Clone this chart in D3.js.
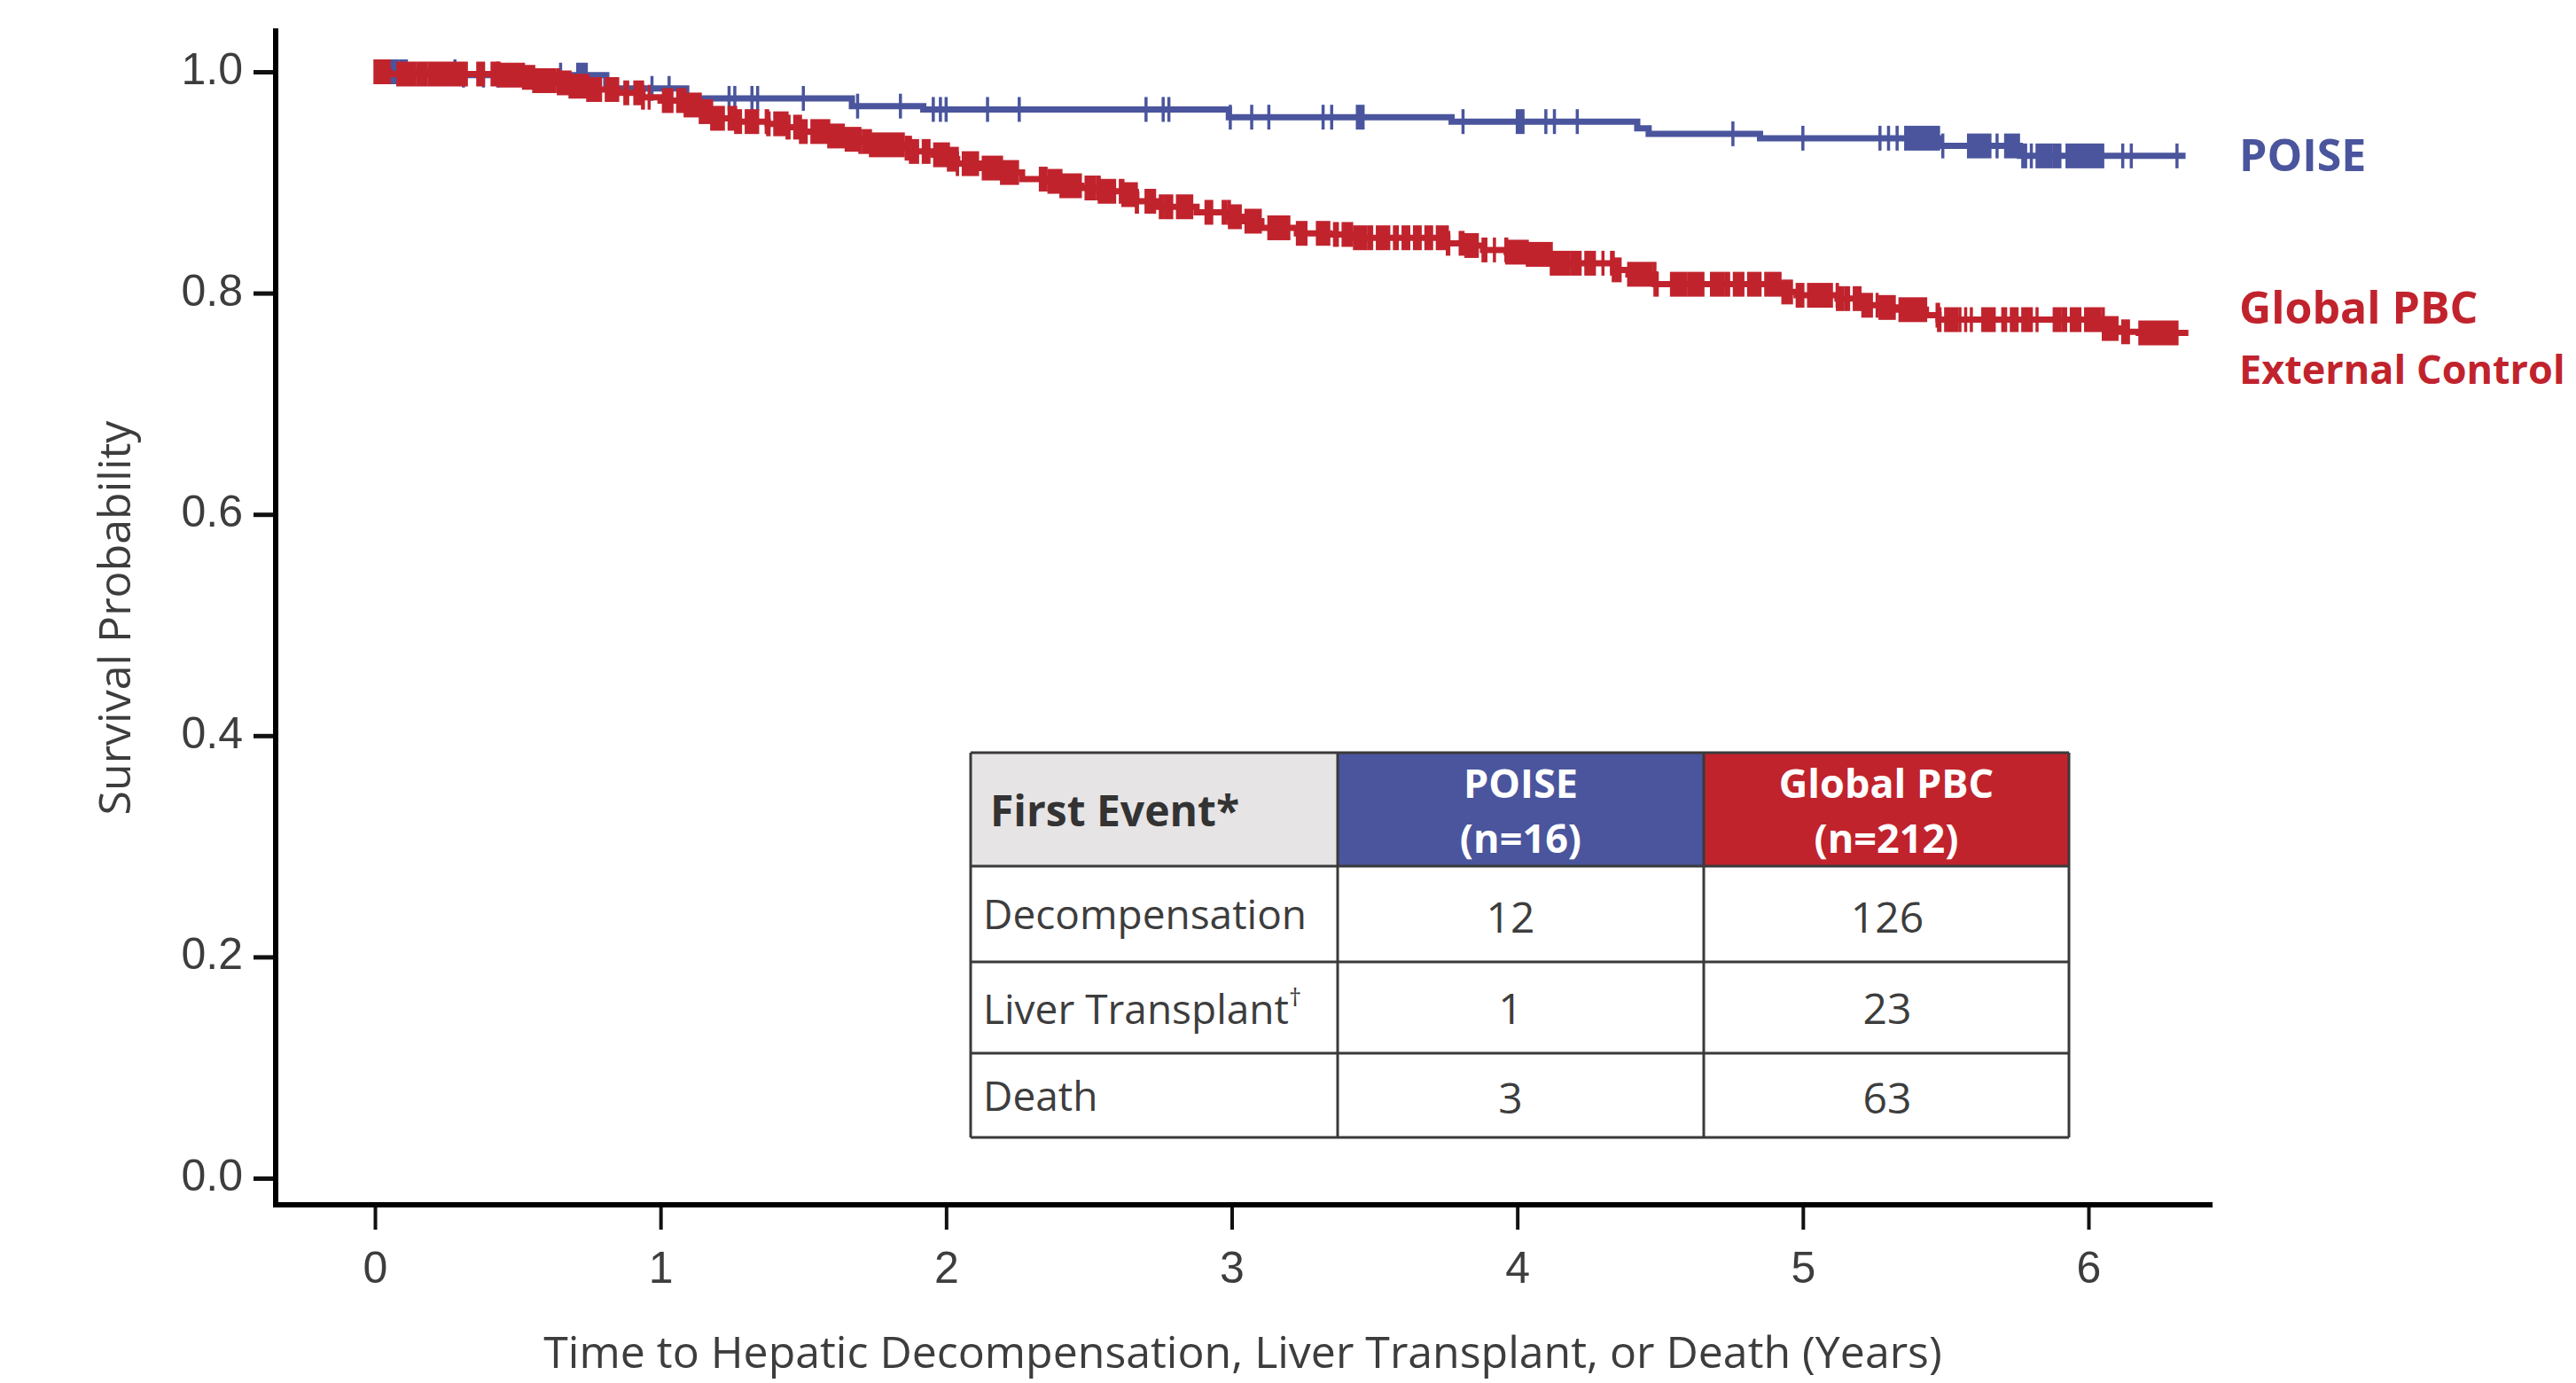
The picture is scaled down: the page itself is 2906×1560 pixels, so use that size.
<!DOCTYPE html>
<html lang="en">
<head>
    <meta charset="UTF-8">
    <title>Time to first event</title>
    <script src="https://cdn.jsdelivr.net/npm/d3@7/dist/d3.min.js"></script>
    <style>
        body { margin: 0; background: #fff; }
        svg { display: block; font-family: "Open Sans", sans-serif; }
        .axis text { fill: #3d3d3d; font-size: 50px; }
        .axis line { stroke: #111; stroke-width: 5px; }
        .axis path { display: none; }
    </style>
</head>
<body>
    <script>
        // axis ticks
        var xTicks = [0, 1, 2, 3, 4, 5, 6];
        var yTicks = [0.0, 0.2, 0.4, 0.6, 0.8, 1.0];

        // KM steps: [years, survival after the step]
        var poiseSteps = [[0, 1.0], [0.30, 0.997], [0.81, 0.985], [1.09, 0.976], [1.67, 0.969], [1.92, 0.966],
            [2.99, 0.959], [3.77, 0.955], [4.42, 0.949], [4.46, 0.944], [4.85, 0.940], [5.475, 0.933], [5.76, 0.924]];
        var poiseEnd = 6.34;
        // censor marks, [from, to] in years (from == to is a single mark)
        var poiseCensor = [[0.05, 0.08], [0.09, 0.11], [0.28, 0.28], [0.31, 0.31], [0.38, 0.38], [0.43, 0.43], [0.65, 0.65],
            [0.71, 0.74], [0.97, 0.97], [1.03, 1.03], [1.24, 1.24], [1.26, 1.26], [1.32, 1.32], [1.34, 1.34], [1.50, 1.50],
            [1.69, 1.69], [1.84, 1.84], [1.955, 1.955], [1.98, 1.98], [2.00, 2.00], [2.145, 2.145], [2.256, 2.256],
            [2.70, 2.70], [2.76, 2.76], [2.78, 2.78], [2.995, 2.995], [3.07, 3.07], [3.13, 3.13], [3.32, 3.32], [3.35, 3.35],
            [3.44, 3.46], [3.81, 3.81], [4.00, 4.02], [4.10, 4.10], [4.13, 4.13], [4.21, 4.21], [4.755, 4.755], [5.00, 5.00],
            [5.27, 5.27], [5.30, 5.30], [5.33, 5.33], [5.36, 5.475], [5.49, 5.49], [5.58, 5.655], [5.68, 5.68], [5.71, 5.755],
            [5.77, 5.78], [5.80, 5.80], [5.82, 5.87], [5.88, 5.90], [5.925, 6.05], [6.12, 6.12], [6.15, 6.15], [6.31, 6.31]];

        var pbcSteps = [[0, 1.0], [0.05, 0.998], [0.435, 0.997], [0.52, 0.995], [0.556, 0.992], [0.642, 0.990], [0.683, 0.987],
            [0.745, 0.984], [0.854, 0.981], [0.937, 0.977], [1.00, 0.974], [1.086, 0.970], [1.139, 0.964], [1.179, 0.958],
            [1.263, 0.955], [1.375, 0.953], [1.443, 0.950], [1.49, 0.946], [1.589, 0.942], [1.645, 0.939], [1.698, 0.937],
            [1.735, 0.934], [1.853, 0.931], [1.875, 0.928], [1.955, 0.925], [2.008, 0.921], [2.039, 0.917], [2.123, 0.913],
            [2.194, 0.909], [2.266, 0.903], [2.359, 0.901], [2.402, 0.897], [2.474, 0.895], [2.536, 0.892], [2.619, 0.889],
            [2.666, 0.883], [2.744, 0.878], [2.877, 0.873], [2.992, 0.869], [3.042, 0.865], [3.104, 0.859], [3.228, 0.854],
            [3.343, 0.853], [3.426, 0.850], [3.755, 0.845], [3.818, 0.843], [3.88, 0.839], [3.963, 0.837], [4.035, 0.835],
            [4.119, 0.827], [4.336, 0.821], [4.389, 0.817], [4.482, 0.808], [4.926, 0.801], [4.978, 0.798], [5.121, 0.795],
            [5.205, 0.789], [5.267, 0.787], [5.329, 0.785], [5.431, 0.780], [5.475, 0.776], [6.052, 0.768], [6.105, 0.765],
            [6.176, 0.764]];
        var pbcEnd = 6.35;
        var pbcCensor = [[0.00, 0.05], [0.08, 0.14], [0.15, 0.18], [0.19, 0.20], [0.21, 0.25], [0.26, 0.29], [0.30, 0.32],
            [0.36, 0.38], [0.41, 0.43], [0.43, 0.56], [0.57, 0.61], [0.62, 0.63], [0.64, 0.79], [0.81, 0.85], [0.875, 0.885],
            [0.91, 0.94], [0.96, 0.96], [1.01, 1.04], [1.06, 1.22], [1.24, 1.28], [1.30, 1.34], [1.37, 1.38], [1.40, 1.42],
            [1.43, 1.45], [1.47, 1.51], [1.53, 1.64], [1.65, 1.70], [1.71, 1.85], [1.86, 1.86], [1.87, 1.90], [1.92, 1.94],
            [1.96, 2.04], [2.06, 2.09], [2.10, 2.11], [2.13, 2.25], [2.33, 2.35], [2.36, 2.47], [2.49, 2.50], [2.51, 2.52],
            [2.53, 2.59], [2.61, 2.67], [2.70, 2.73], [2.75, 2.76], [2.77, 2.79], [2.81, 2.86], [2.91, 2.93], [2.97, 2.98],
            [2.99, 3.03], [3.05, 3.10], [3.13, 3.20], [3.23, 3.26], [3.30, 3.34], [3.36, 3.37], [3.39, 3.42], [3.43, 3.47],
            [3.48, 3.49], [3.51, 3.55], [3.57, 3.58], [3.60, 3.62], [3.64, 3.66], [3.68, 3.70], [3.72, 3.76], [3.80, 3.81],
            [3.82, 3.86], [3.88, 3.89], [3.92, 3.92], [3.96, 4.07], [4.08, 4.18], [4.19, 4.22], [4.24, 4.25], [4.26, 4.27],
            [4.30, 4.30], [4.33, 4.34], [4.35, 4.36], [4.39, 4.47], [4.48, 4.49], [4.54, 4.59], [4.60, 4.65], [4.68, 4.72],
            [4.73, 4.74], [4.76, 4.79], [4.81, 4.85], [4.87, 4.89], [4.90, 4.92], [4.93, 4.96], [4.98, 5.00], [5.02, 5.03],
            [5.04, 5.10], [5.12, 5.14], [5.15, 5.16], [5.18, 5.20], [5.21, 5.24], [5.26, 5.26], [5.27, 5.29], [5.30, 5.32],
            [5.34, 5.43], [5.47, 5.48], [5.50, 5.54], [5.55, 5.55], [5.57, 5.57], [5.59, 5.59], [5.63, 5.67], [5.70, 5.71],
            [5.73, 5.75], [5.77, 5.80], [5.82, 5.82], [5.88, 5.90], [5.91, 5.92], [5.94, 5.97], [5.99, 6.01], [6.02, 6.04],
            [6.05, 6.10], [6.12, 6.14], [6.18, 6.29], [6.30, 6.31]];

        // inset table
        var tableHead = ["First Event*", ["POISE", "(n=16)"], ["Global PBC", "(n=212)"]];
        var rowLabels = ["Decompensation", "Liver Transplant", "Death"];
        var poiseCounts = [12, 1, 3];
        var pbcCounts = [126, 23, 63];

        var blue = "#4a559d", red = "#c1232d", ink = "#3d3d3d";

        var svg = d3.select("body").append("svg")
            .attr("width", 2906)
            .attr("height", 1560);

        var x = d3.scaleLinear().domain([0, 6]).range([423, 2356]);
        var y = d3.scaleLinear().domain([0, 1]).range([1329, 81]);

        // axes
        var gx = svg.append("g").attr("class", "axis")
            .attr("transform", "translate(0,1359)")
            .call(d3.axisBottom(x).tickValues(xTicks).tickFormat(d3.format("d")).tickSize(28).tickSizeOuter(0));
        gx.selectAll("line").style("stroke-width", "4px");
        gx.selectAll("text").attr("y", 88).attr("dy", null);

        var gy = svg.append("g").attr("class", "axis")
            .attr("transform", "translate(311,0)")
            .call(d3.axisLeft(y).tickValues(yTicks).tickFormat(d3.format(".1f")).tickSize(25).tickPadding(12).tickSizeOuter(0));
        gy.selectAll("text").attr("dy", "0.27em");

        svg.append("line").attr("x1", 308).attr("x2", 2496).attr("y1", 1359).attr("y2", 1359)
            .attr("stroke", "#000").attr("stroke-width", 6);
        svg.append("line").attr("x1", 311).attr("x2", 311).attr("y1", 32).attr("y2", 1362)
            .attr("stroke", "#000").attr("stroke-width", 6);

        svg.append("text")
            .attr("x", 1402).attr("y", 1543)
            .attr("text-anchor", "middle")
            .attr("fill", ink).attr("font-size", 50)
            .text("Time to Hepatic Decompensation, Liver Transplant, or Death (Years)");

        svg.append("text")
            .attr("transform", "translate(147,697) rotate(-90)")
            .attr("text-anchor", "middle")
            .attr("fill", ink).attr("font-size", 50)
            .text("Survival Probability");

        // KM curves
        function survAt(steps, t) {
            var s = steps[0][1];
            steps.forEach(function (d) { if (d[0] <= t) s = d[1]; });
            return s;
        }

        var stepLine = d3.line()
            .x(function (d) { return x(d[0]); })
            .y(function (d) { return y(d[1]); })
            .curve(d3.curveStepAfter);

        function drawCurve(steps, end, censor, color) {
            var g = svg.append("g");
            var pts = steps.concat([[end, steps[steps.length - 1][1]]]);
            g.append("path")
                .attr("d", stepLine(pts))
                .attr("fill", "none")
                .attr("stroke", color)
                .attr("stroke-width", 7);

            // split each censor run at the steps it crosses
            var pieces = [];
            censor.forEach(function (c) {
                var cuts = [c[0]];
                steps.forEach(function (d) { if (d[0] > c[0] && d[0] < c[1]) cuts.push(d[0]); });
                cuts.push(c[1]);
                for (var i = 0; i < cuts.length - 1; i++) {
                    pieces.push({ t0: cuts[i], t1: cuts[i + 1], s: survAt(steps, cuts[i]) });
                }
            });
            g.selectAll("rect")
                .data(pieces)
                .enter()
                .append("rect")
                .attr("x", function (d) { return x(d.t0) - 1.75; })
                .attr("width", function (d) { return x(d.t1) - x(d.t0) + 3.5; })
                .attr("y", function (d) { return y(d.s) - 14; })
                .attr("height", 28)
                .attr("fill", color);
        }

        drawCurve(poiseSteps, poiseEnd, poiseCensor, blue);
        drawCurve(pbcSteps, pbcEnd, pbcCensor, red);

        // curve labels
        svg.append("text").attr("x", 2526).attr("y", 193)
            .attr("fill", blue).attr("font-size", 50).attr("font-weight", 700)
            .text("POISE");
        svg.append("text").attr("x", 2526).attr("y", 365)
            .attr("fill", red).attr("font-size", 50).attr("font-weight", 700)
            .text("Global PBC");
        svg.append("text").attr("x", 2526).attr("y", 433)
            .attr("fill", red).attr("font-size", 45).attr("font-weight", 700)
            .text("External Control");

        // table
        var colX = [1095, 1509, 1922, 2334];
        var rowY = [849, 977, 1085, 1188, 1283];
        var tg = svg.append("g");
        var headFill = ["#e6e4e5", blue, red];
        tg.selectAll(".hcell")
            .data(headFill)
            .enter()
            .append("rect")
            .attr("class", "hcell")
            .attr("x", function (d, i) { return colX[i]; })
            .attr("y", rowY[0])
            .attr("width", function (d, i) { return colX[i + 1] - colX[i]; })
            .attr("height", rowY[1] - rowY[0])
            .attr("fill", function (d) { return d; });

        tg.append("text").attr("x", 1117).attr("y", 932)
            .attr("fill", "#333").attr("font-size", 48).attr("font-weight", 700)
            .text(tableHead[0]);
        [1, 2].forEach(function (c) {
            var cx = (colX[c] + colX[c + 1]) / 2;
            tableHead[c].forEach(function (line, k) {
                tg.append("text").attr("x", cx).attr("y", k ? 962 : 900)
                    .attr("text-anchor", "middle")
                    .attr("fill", "#fff").attr("font-size", 45).attr("font-weight", 700)
                    .text(line);
            });
        });

        var labelY = [1048, 1155, 1253];
        rowLabels.forEach(function (lab, i) {
            var t = tg.append("text").attr("x", 1109).attr("y", labelY[i])
                .attr("fill", ink).attr("font-size", 46)
                .text(lab);
            if (i === 1) {
                t.append("tspan").attr("font-size", 28).attr("dy", -20).text("†");
            }
        });
        var valueY = [1052, 1155, 1256];
        poiseCounts.forEach(function (v, i) {
            tg.append("text").attr("x", 1704).attr("y", valueY[i])
                .attr("text-anchor", "middle").attr("fill", ink).attr("font-size", 48)
                .text(v);
        });
        pbcCounts.forEach(function (v, i) {
            tg.append("text").attr("x", 2129).attr("y", valueY[i])
                .attr("text-anchor", "middle").attr("fill", ink).attr("font-size", 48)
                .text(v);
        });

        // grid lines
        tg.selectAll(".hline")
            .data(rowY)
            .enter()
            .append("line")
            .attr("x1", colX[0]).attr("x2", colX[3])
            .attr("y1", function (d) { return d; }).attr("y2", function (d) { return d; })
            .attr("stroke", "#3a3a3a").attr("stroke-width", 3);
        tg.selectAll(".vline")
            .data(colX)
            .enter()
            .append("line")
            .attr("x1", function (d) { return d; }).attr("x2", function (d) { return d; })
            .attr("y1", rowY[0]).attr("y2", rowY[4])
            .attr("stroke", "#3a3a3a").attr("stroke-width", 3);
    </script>
</body>
</html>
